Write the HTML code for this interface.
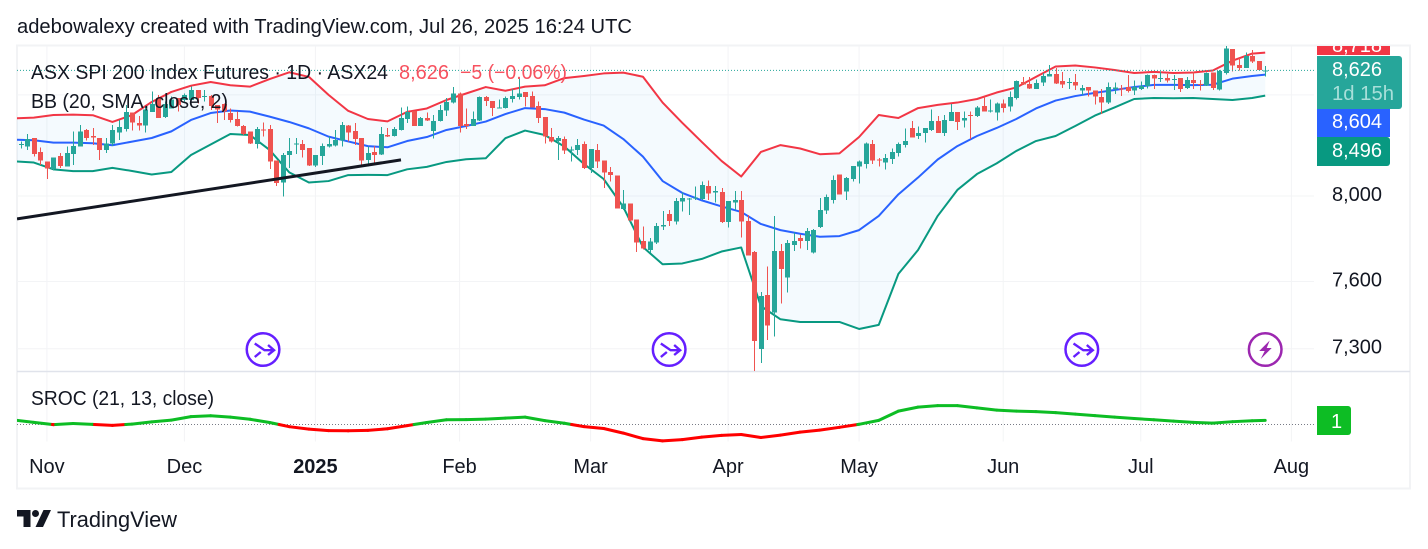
<!DOCTYPE html>
<html lang="en">
<head>
<meta charset="utf-8">
<title>ASX SPI 200 Index Futures chart</title>
<style>
html,body{margin:0;padding:0;background:#fff;width:1428px;height:549px;overflow:hidden}
svg{display:block;font-family:"Liberation Sans",sans-serif}
text{fill:#131722}
</style>
</head>
<body>
<svg id="chart" xmlns="http://www.w3.org/2000/svg" width="1428" height="549" viewBox="0 0 1428 549">
  <defs>
    <clipPath id="price-clip"><rect x="17" y="46" width="1297" height="325"/></clipPath>
    <clipPath id="sroc-clip"><rect x="17" y="372" width="1297" height="72"/></clipPath>
    <clipPath id="top-label-clip"><rect x="1317" y="46" width="73" height="9"/></clipPath>
  </defs>
  <rect width="1428" height="549" fill="#ffffff"/>
  <text x="17" y="33" font-size="20" textLength="615" lengthAdjust="spacingAndGlyphs">adebowalexy created with TradingView.com, Jul 26, 2025 16:24 UTC</text>
  <rect x="17" y="45.5" width="1393" height="443" fill="none" stroke="#f2f3f5" stroke-width="2"/>
  <g id="grid"></g>
  <line x1="17" y1="371.5" x2="1410" y2="371.5" stroke="#e0e3eb" stroke-width="1.5"/>
  <g clip-path="url(#price-clip)">
    <path id="bb-fill" fill="#2196f3" fill-opacity="0.05" stroke="none"/>
    <path id="bb-upper" fill="none" stroke="#f23645" stroke-width="2" stroke-linejoin="round"/>
    <path id="bb-basis" fill="none" stroke="#2962ff" stroke-width="2" stroke-linejoin="round"/>
    <path id="bb-lower" fill="none" stroke="#089981" stroke-width="2" stroke-linejoin="round"/>
    <g id="candles" shape-rendering="crispEdges"></g>
    <line id="trend-line" stroke="#131722" stroke-width="3"/>
    <line id="last-price-line" x1="17" x2="1314" stroke="#26a69a" stroke-width="1" stroke-dasharray="1 2"/>
  </g>
  <g id="events"></g>

  <text x="31" y="79" font-size="20" textLength="357" lengthAdjust="spacingAndGlyphs">ASX SPI 200 Index Futures · 1D · ASX24</text>
  <text x="399" y="79" font-size="20" style="fill:#f7525f" textLength="50" lengthAdjust="spacingAndGlyphs">8,626</text>
  <text x="460" y="79" font-size="20" style="fill:#f7525f" textLength="107" lengthAdjust="spacingAndGlyphs">−5 (−0.06%)</text>
  <text x="31" y="108" font-size="20" textLength="197" lengthAdjust="spacingAndGlyphs">BB (20, SMA, close, 2)</text>
  <text x="31" y="405" font-size="20" textLength="183" lengthAdjust="spacingAndGlyphs">SROC (21, 13, close)</text>

  <g id="price-axis"></g>
  <g>
    <rect x="1317" y="46" width="73" height="9" fill="#f23645"/>
    <text clip-path="url(#top-label-clip)" x="1332" y="52" font-size="20" style="fill:#fff">8,718</text>
  </g>
  <path fill="#26a69a" d="M1317 56h82a3 3 0 0 1 3 3v47a3 3 0 0 1-3 3h-82z"/>
  <text x="1332" y="76" font-size="20" style="fill:#fff">8,626</text>
  <text x="1332" y="100" font-size="20" style="fill:#a8dfd9" textLength="62" lengthAdjust="spacingAndGlyphs">1d 15h</text>
  <rect x="1317" y="109" width="73" height="28" fill="#2962ff"/>
  <text x="1332" y="128" font-size="20" style="fill:#fff">8,604</text>
  <path fill="#089981" d="M1317 137h70a3 3 0 0 1 3 3v23a3 3 0 0 1-3 3h-70z"/>
  <text x="1332" y="157" font-size="20" style="fill:#fff">8,496</text>

  <g clip-path="url(#sroc-clip)">
    <line id="sroc-zero" x1="17" x2="1314" stroke="#787b86" stroke-width="1" stroke-dasharray="1 2"/>
    <g id="sroc-line"></g>
  </g>
  <path fill="#0dbd24" d="M1317 406h31a3 3 0 0 1 3 3v23a3 3 0 0 1-3 3h-31z"/>
  <text x="1331" y="428" font-size="20" style="fill:#fff">1</text>

  <g id="time-axis"></g>

  <g>
    <path fill="#131722" d="M17 510h13.5v17h-7v-10.5h-6.5z"/>
    <circle cx="35.5" cy="513.5" r="3.5" fill="#131722"/>
    <path fill="#131722" d="M43.5 510h7.5l-8 17h-7.500z"/>
    <text x="57" y="527" font-size="22" textLength="120" lengthAdjust="spacingAndGlyphs">TradingView</text>
  </g>
</svg>
<script>
const opens = [8240,8248,8241,8282,8214,8166,8130,8195,8143,8205,8241,8324,8292,8284,8224,8257,8311,8329,8411,8357,8346,8414,8483,8389,8432,8483,8474,8474,8526,8491,8495,8449,8454,8407,8377,8344,8316,8254,8326,8327,8171,8066,8200,8254,8254,8234,8148,8195,8241,
8247,8271,8346,8319,8284,8175,8214,8201,8299,8294,8324,8379,8419,8344,8384,8319,8369,8421,8461,8508,8352,8344,8371,8489,8469,8434,8434,8479,8488,8515,8495,8444,8387,8287,8269,8279,8224,8224,8254,8135,8224,8171,8117,8098,7937,7965,7887,7788,7745,7780,
7855,7915,7879,7973,7985,7991,7985,8049,8017,8020,7877,7968,7981,7882,7736,7299,7539,7460,7740,7618,7768,7802,7786,7733,7852,7931,7981,8103,8022,8083,8143,8156,8253,8176,8163,8180,8208,8248,8333,8293,8308,8323,8368,8308,8368,8413,
8371,8399,8394,8444,8417,8411,8457,8441,8483,8567,8556,8531,8563,8594,8608,8570,8562,8565,8522,8539,8522,8488,8462,8531,8532,8539,8522,8531,8546,8601,8582,8586,8579,8587,8536,8575,8556,8548,8615,8527,8611,8737,8654,8639,8701,8675,8622];
const highs = [8260,8265,8302,8282,8237,8166,8188,8208,8241,8316,8349,8327,8332,8284,8282,8349,8374,8449,8411,8394,8441,8517,8500,8466,8491,8483,8508,8543,8526,8526,8500,8449,8457,8432,8416,8349,8316,8337,8361,8349,8171,8208,8282,8282,8274,8234,8200,8257,8291,
8324,8362,8349,8357,8284,8241,8244,8337,8332,8337,8437,8441,8419,8387,8411,8399,8449,8483,8539,8512,8432,8416,8491,8495,8469,8477,8491,8529,8589,8515,8517,8466,8387,8332,8294,8291,8241,8277,8266,8229,8254,8171,8140,8098,8030,7965,7887,7855,7800,7871,
7929,7934,7990,8017,7990,8046,8070,8074,8049,8038,7976,8025,8025,7910,7740,7553,7669,7905,7773,7792,7826,7817,7847,7844,7990,8006,8098,8103,8091,8146,8172,8260,8273,8184,8205,8232,8260,8331,8368,8340,8333,8427,8393,8398,8454,8413,
8416,8416,8444,8491,8477,8461,8477,8517,8574,8591,8591,8580,8611,8654,8637,8618,8586,8608,8551,8539,8522,8529,8563,8563,8551,8603,8574,8568,8604,8604,8620,8608,8603,8587,8591,8620,8577,8615,8615,8629,8752,8737,8689,8718,8732,8675,8649];
const lows = [8230,8232,8224,8192,8151,8082,8124,8135,8143,8151,8241,8271,8249,8175,8208,8244,8274,8316,8321,8321,8311,8414,8384,8382,8432,8416,8466,8474,8457,8466,8424,8357,8374,8361,8341,8299,8254,8232,8291,8130,8049,7998,8135,8205,8188,8146,8140,8151,8237,
8241,8241,8266,8249,8143,8143,8156,8200,8287,8291,8321,8357,8344,8344,8369,8281,8366,8394,8457,8311,8327,8344,8369,8444,8394,8432,8432,8461,8477,8441,8437,8357,8257,8261,8175,8205,8167,8200,8130,8111,8135,8038,8070,7940,7934,7879,7737,7748,7733,7773,
7839,7858,7864,7926,7910,7981,7981,7981,7968,7871,7850,7934,7803,7719,7202,7237,7338,7353,7501,7550,7740,7751,7745,7730,7849,7915,7965,8006,7981,8070,8059,8133,8154,8143,8127,8156,8192,8237,8286,8279,8260,8318,8308,8293,8368,8323,
8336,8279,8387,8416,8411,8371,8411,8416,8477,8550,8529,8531,8546,8594,8556,8534,8531,8526,8500,8491,8450,8404,8454,8505,8495,8512,8500,8526,8532,8531,8565,8563,8526,8515,8531,8531,8522,8546,8526,8522,8604,8620,8625,8639,8663,8625,8594];
const closes = [8250,8253,8277,8205,8172,8133,8188,8146,8208,8244,8316,8284,8286,8224,8257,8324,8337,8412,8361,8346,8427,8454,8384,8454,8477,8449,8500,8526,8483,8495,8444,8427,8416,8374,8344,8304,8257,8329,8322,8167,8062,8200,8219,8257,8224,8148,8200,8244,8254,
8274,8349,8311,8277,8172,8209,8200,8304,8291,8329,8384,8414,8344,8384,8371,8367,8424,8464,8508,8344,8344,8379,8488,8469,8434,8437,8484,8495,8508,8489,8437,8384,8291,8266,8282,8221,8227,8249,8135,8229,8167,8114,8101,7940,7965,7883,7780,7752,7785,7858,
7861,7882,7976,7990,7988,7994,8054,8011,8025,7877,7976,7981,7879,7719,7335,7534,7402,7740,7658,7778,7786,7786,7835,7839,7934,7995,8078,8006,8088,8146,8166,8255,8171,8172,8185,8213,8253,8268,8286,8308,8333,8368,8308,8373,8413,8363,
8382,8394,8437,8416,8421,8457,8434,8488,8570,8553,8532,8560,8598,8606,8558,8553,8565,8548,8534,8522,8491,8461,8539,8538,8529,8519,8539,8546,8601,8584,8586,8574,8582,8531,8577,8562,8553,8611,8534,8623,8740,8651,8639,8701,8673,8629,8626];

/* Bollinger and SROC values read at every third bar (final entry = last bar) */
const bbUpper = [8381,8385,8398,8400,8397,8363,8398,8464,8515,8547,8566,8549,8542,8581,8616,8592,8500,8419,8378,8366,8414,8431,8474,8507,8540,8521,8542,8549,8586,8597,8610,8614,8593,8461,8359,8263,8170,8094,8214,8248,8231,8203,8207,8288,8398,8383,8433,8449,8461,8479,8512,8538,8592,8646,8651,8641,8628,8612,8618,8612,8615,8625,8676,8713,8718];
const bbBasis = [8275,8272,8260,8260,8257,8247,8265,8283,8316,8373,8408,8421,8415,8390,8363,8331,8290,8266,8243,8237,8268,8288,8323,8343,8365,8403,8433,8428,8410,8375,8345,8278,8191,8072,8015,7979,7950,7924,7867,7838,7821,7807,7810,7838,7905,8008,8089,8177,8243,8293,8333,8378,8431,8471,8494,8510,8525,8540,8551,8551,8550,8552,8583,8597,8604];
const bbLower = [8168,8162,8129,8120,8120,8136,8121,8104,8116,8199,8251,8303,8298,8224,8114,8065,8072,8101,8102,8101,8129,8141,8165,8178,8183,8282,8320,8298,8241,8155,8082,7947,7759,7679,7683,7704,7738,7757,7489,7430,7418,7418,7418,7387,7405,7635,7745,7905,8029,8106,8158,8219,8268,8293,8343,8395,8436,8479,8484,8483,8484,8479,8474,8484,8496];
const srocValues = [1.05,0.5,-0.03,0.24,0.02,-0.21,0.1,0.62,1.05,1.88,2.07,1.76,1.24,0.48,-0.52,-1.1,-1.45,-1.5,-1.4,-1.02,-0.26,0.48,1.14,1.17,1.29,1.52,1.76,0.93,0.29,-0.5,-0.95,-2.05,-3.36,-3.9,-3.6,-3,-2.6,-2.38,-3.1,-2.52,-1.81,-1.33,-0.67,0.05,0.98,3.19,4.14,4.5,4.5,3.95,3.43,3.19,3.07,2.83,2.48,2.12,1.76,1.43,1.12,0.81,0.5,0.33,0.67,0.9,0.98];

const timeTickBars = [5,26,46,68,88,109,129,151,172,195];
const timeTickLabels = ["Nov","Dec","2025","Feb","Mar","Apr","May","Jun","Jul","Aug"];
const priceTicks = [7300,7600,8000,8500];
const priceTickLabels = ["7,300","7,600","8,000",""];
const eventBars = [38,100,163,191];
const eventKinds = ["split","split","split","earnings"];
const trendBars = [0.44,59.06];
const trendPrices = [7891,8175];

const NS = "http://www.w3.org/2000/svg";
const barCount = closes.length;
const bandStep = 3;
function xOf(i){ return 14.15 + 6.55 * i; }
function yOf(p){ return 196 - 1668 * Math.log(p / 8000); }
function srocY(v){ return 424.5 - 4.2 * v; }
function bandBar(j){ return Math.min(j * bandStep, barCount - 1); }
function make(tag, attrs, parent){
  const el = document.createElementNS(NS, tag);
  for (const k in attrs) el.setAttribute(k, attrs[k]);
  parent.appendChild(el);
  return el;
}
function bandPath(values){
  return values.map((v, j) => (j ? "L" : "M") + xOf(bandBar(j)).toFixed(2) + " " + yOf(v).toFixed(2)).join("");
}

/* grid */
const grid = document.getElementById("grid");
priceTicks.forEach(function(p){
  const l = make("line", {x1:17, x2:1314, y1:yOf(p), y2:yOf(p), stroke:"#f3f4f6", "stroke-width":1}, grid);
  
  
});
timeTickBars.forEach(function(b){
  const x = xOf(b);
  const a = make("line", {x1:x, x2:x, y1:46, y2:371, stroke:"#f3f4f6", "stroke-width":1}, grid);
  
  
  const c = make("line", {x1:x, x2:x, y1:372, y2:441.5, stroke:"#f3f4f6", "stroke-width":1}, grid);
  
  
});

/* bollinger */
document.getElementById("bb-upper").setAttribute("d", bandPath(bbUpper));
document.getElementById("bb-basis").setAttribute("d", bandPath(bbBasis));
document.getElementById("bb-lower").setAttribute("d", bandPath(bbLower));
const lowerRev = bbLower.map((v, j) => "L" + xOf(bandBar(j)).toFixed(2) + " " + yOf(v).toFixed(2)).reverse().join("");
document.getElementById("bb-fill").setAttribute("d", bandPath(bbUpper) + lowerRev + "Z");

/* candles */
const candleGroup = document.getElementById("candles");
closes.forEach(function(close, i){
  const up = close >= opens[i];
  const color = up ? "#26a69a" : "#ef5350";
  const cx = Math.round(xOf(i));
  const g = make("g", {}, candleGroup);
  
  
  const top = yOf(Math.max(opens[i], close));
  const bottom = yOf(Math.min(opens[i], close));
  make("rect", {x:cx, y:yOf(highs[i]), width:1, height:Math.max(1, yOf(lows[i]) - yOf(highs[i])), fill:color}, g);
  make("rect", {x:cx - 2, y:top, width:5, height:Math.max(1, bottom - top), fill:color}, g);
});

/* trend line + last price */
const trend = document.getElementById("trend-line");
trend.setAttribute("x1", xOf(trendBars[0]));
trend.setAttribute("y1", yOf(trendPrices[0]));
trend.setAttribute("x2", xOf(trendBars[1]));
trend.setAttribute("y2", yOf(trendPrices[1]));
const lastLine = document.getElementById("last-price-line");
lastLine.setAttribute("y1", yOf(closes[barCount - 1]));
lastLine.setAttribute("y2", yOf(closes[barCount - 1]));

/* events */
const eventsGroup = document.getElementById("events");
eventBars.forEach(function(b, n){
  const kind = eventKinds[n];
  const color = kind === "split" ? "#651fff" : "#9c27b0";
  const g = make("g", {transform:"translate(" + xOf(b) + " 349.5)"}, eventsGroup);
  
  
  make("circle", {r:16.3, fill:"#fff", stroke:color, "stroke-width":2.5}, g);
  if (kind === "split") {
    make("path", {d:"M-8.3 -6L1.500 0.7H11M5 -4.500L11 0.7L5 5.500M-8.300 7.500L-2.300 2.500", fill:"none", stroke:color, "stroke-width":2.4}, g);
  } else {
    make("path", {d:"M4.500 -9L-6 1.500H-0.500L-4.500 9.500L6.500 -1.500H1.500Z", fill:color}, g);
  }
});

/* price axis */
const priceAxis = document.getElementById("price-axis");
priceTicks.forEach(function(p, n){
  if (!priceTickLabels[n]) return;
  const t = make("text", {x:1332, y:yOf(p) + 5, "font-size":20}, priceAxis);
  
  
  t.textContent = priceTickLabels[n];
});

/* sroc */
const zero = document.getElementById("sroc-zero");
zero.setAttribute("y1", srocY(0));
zero.setAttribute("y2", srocY(0));
const srocGroup = document.getElementById("sroc-line");
function srocSegment(x1, v1, x2, v2, color){
  const s = make("line", {x1:x1, y1:srocY(v1), x2:x2, y2:srocY(v2), stroke:color, "stroke-width":3, "stroke-linecap":"round"}, srocGroup);
  
  
}
const srocUp = "#0dbd24", srocDown = "#ff0000";
for (let j = 0; j < srocValues.length - 1; j++) {
  const x1 = xOf(bandBar(j)), x2 = xOf(bandBar(j + 1));
  const v1 = srocValues[j], v2 = srocValues[j + 1];
  if (v1 * v2 < 0) {
    const xc = x1 + (x2 - x1) * v1 / (v1 - v2);
    srocSegment(x1, v1, xc, 0, v1 >= 0 ? srocUp : srocDown);
    srocSegment(xc, 0, x2, v2, v2 >= 0 ? srocUp : srocDown);
  } else {
    srocSegment(x1, v1, x2, v2, (v1 + v2) >= 0 ? srocUp : srocDown);
  }
}

/* time axis */
const timeAxis = document.getElementById("time-axis");
timeTickBars.forEach(function(b, n){
  const t = make("text", {x:xOf(b), y:473, "font-size":20, "text-anchor":"middle"}, timeAxis);
  
  
  if (timeTickLabels[n] === "2025") t.setAttribute("font-weight", "bold");
  t.textContent = timeTickLabels[n];
});
</script>
</body>
</html>
